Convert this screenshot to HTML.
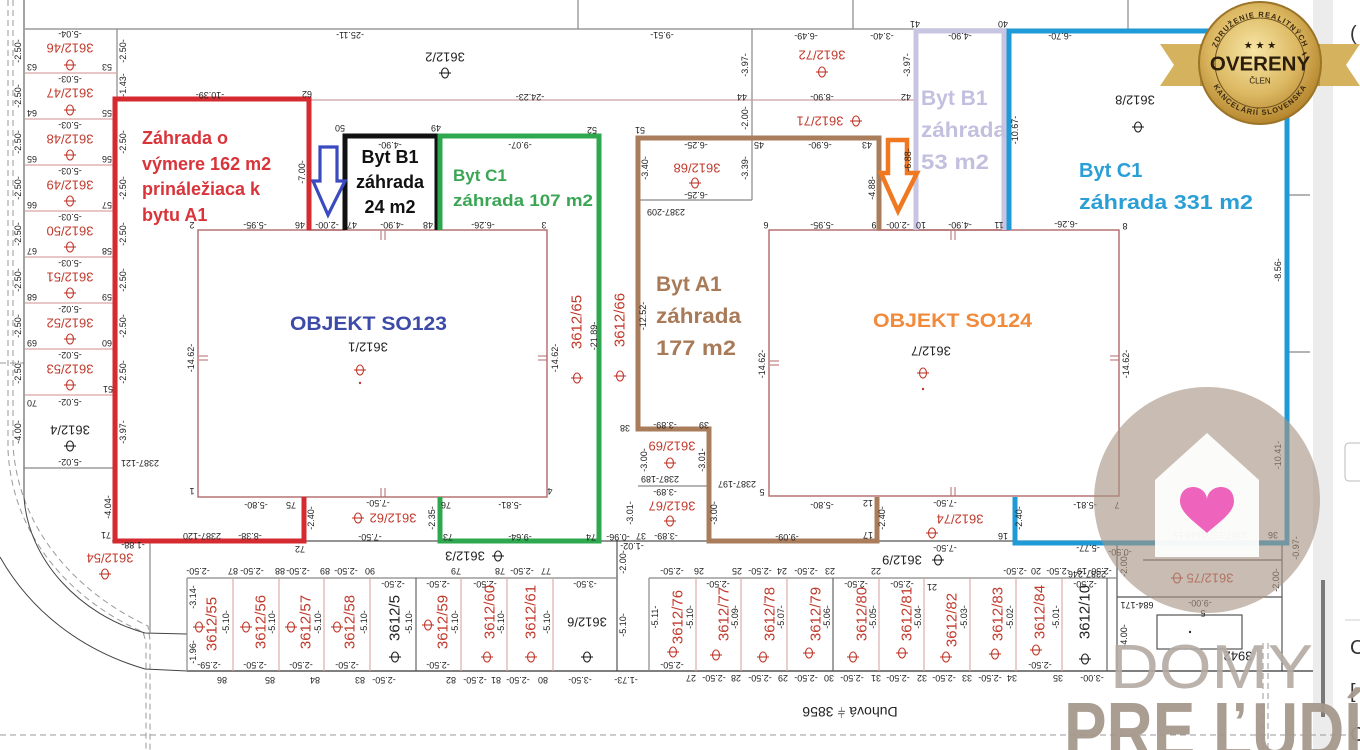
<!DOCTYPE html>
<html><head><meta charset="utf-8">
<style>
html,body{margin:0;padding:0;background:#fff;}
svg{display:block;}
text{font-family:"Liberation Sans",sans-serif;}
.c{text-anchor:middle;dominant-baseline:central;}
.d{font-size:9px;fill:#222;text-anchor:middle;dominant-baseline:central;}
.r{font-size:13px;fill:#c0392b;text-anchor:middle;dominant-baseline:central;}
.k{font-size:13px;fill:#222;text-anchor:middle;dominant-baseline:central;}
.v{font-size:15px;fill:#c0392b;text-anchor:middle;dominant-baseline:central;}
.vk{font-size:15px;fill:#222;text-anchor:middle;dominant-baseline:central;}
.lab{font-weight:bold;}
</style></head><body>
<svg width="1360" height="750" viewBox="0 0 1360 750" xmlns="http://www.w3.org/2000/svg">
<defs>
<g id="t" fill="none" stroke="currentColor" stroke-width="1.1"><ellipse cx="0" cy="0" rx="3.5" ry="5"/><line x1="-6" y1="0" x2="6" y2="0"/></g>
<radialGradient id="gold" cx="45%" cy="40%" r="60%">
<stop offset="0" stop-color="#f7e6a6"/><stop offset="0.6" stop-color="#dcb862"/><stop offset="1" stop-color="#b5862e"/>
</radialGradient>
<path id="arcTop" d="M1214,63 A46,46 0 0,1 1306,63"/>
<path id="arcBot" d="M1208,63 A52,52 0 0,0 1312,63"/>
</defs>

<!-- right panel band -->
<rect x="1313" y="0" width="20" height="750" fill="#ececec"/>
<rect x="1321" y="580" width="4" height="137" fill="#7a7a7a"/>
<rect x="1345" y="443" width="30" height="38" rx="4" fill="#fff" stroke="#bbb"/>
<line x1="1345" y1="620" x2="1360" y2="620" stroke="#ccc"/>
<text x="1350" y="40" font-size="20" fill="#333">(</text>
<text x="1350" y="654" font-size="20" fill="#333">C</text>
<text x="1350" y="698" font-size="20" fill="#333">[</text>
<text x="1350" y="741" font-size="20" fill="#333">C</text>

<!-- left dashed / curves -->
<g fill="none" stroke="#999" stroke-width="1" stroke-dasharray="6,4">
<path d="M8,0 L8,450 C12,535 70,600 143,632 L146,642 L146,750"/>
<path d="M13,0 L13,445 C18,528 75,592 148,626 L150,640 L150,750"/>
<line x1="0" y1="735" x2="1360" y2="735"/>
<line x1="0" y1="363" x2="24" y2="363"/>
<line x1="1263" y1="643" x2="1263" y2="750"/>
<line x1="1268" y1="643" x2="1268" y2="750"/>
</g>
<g fill="none" stroke="#444" stroke-width="1">
<path d="M24,0 L24,497 C28,560 80,615 145,633 L187,634"/>
<path d="M0,557 C30,610 80,650 145,669 L187,671"/>
</g>

<!-- base thin lines -->
<g stroke="#888" stroke-width="1.2" fill="none">
<line x1="25" y1="29" x2="1008" y2="29"/>
<line x1="578" y1="0" x2="578" y2="29"/>
<line x1="853" y1="0" x2="853" y2="29"/>
<line x1="1128" y1="0" x2="1128" y2="29"/>
<line x1="117" y1="29" x2="117" y2="540"/>
<line x1="752" y1="29" x2="752" y2="200"/>
<line x1="638" y1="200" x2="752" y2="200"/>
<line x1="24" y1="468" x2="114" y2="468"/>
<line x1="150" y1="541" x2="150" y2="633"/>
<line x1="112" y1="541" x2="150" y2="541"/>
<line x1="304" y1="541" x2="1287" y2="541" stroke="#555"/>
<line x1="617" y1="541" x2="617" y2="671" stroke="#555"/>
<line x1="1117" y1="541" x2="1117" y2="671" stroke="#555"/>
<line x1="1282" y1="543" x2="1282" y2="671" stroke="#555"/>
<line x1="1143" y1="560" x2="1282" y2="560" stroke="#555"/>
<line x1="1117" y1="597" x2="1282" y2="597" stroke="#555"/>
<rect x="1157" y="615" width="85" height="34" stroke="#555"/>
<line x1="617" y1="671" x2="1313" y2="671" stroke="#333"/>
<line x1="187" y1="671" x2="617" y2="671" stroke="#333"/>
<line x1="187" y1="578" x2="617" y2="578"/>
<line x1="649" y1="578" x2="1117" y2="578"/>
<line x1="187" y1="578" x2="187" y2="671"/>
<line x1="649" y1="578" x2="649" y2="671"/>
<line x1="1287" y1="195" x2="1310" y2="195"/>
<line x1="1287" y1="352" x2="1310" y2="352"/>
<line x1="638" y1="486" x2="709" y2="486"/>
</g>
<line x1="117" y1="100" x2="915" y2="100" stroke="#c9a0a0" stroke-width="1.2"/>

<!-- left column row separators -->
<g stroke="#d9a5a5" stroke-width="1.2">
<line x1="25" y1="73" x2="117" y2="73"/><line x1="25" y1="119" x2="117" y2="119"/>
<line x1="25" y1="165" x2="117" y2="165"/><line x1="25" y1="211" x2="117" y2="211"/>
<line x1="25" y1="257" x2="117" y2="257"/><line x1="25" y1="303" x2="117" y2="303"/>
<line x1="25" y1="349" x2="117" y2="349"/><line x1="25" y1="395" x2="117" y2="395"/>
</g>

<!-- bottom row columns -->
<g stroke="#d9a5a5" stroke-width="1.1">
<line x1="233" y1="578" x2="233" y2="671"/><line x1="279" y1="578" x2="279" y2="671"/>
<line x1="324" y1="578" x2="324" y2="671"/><line x1="370" y1="578" x2="370" y2="671"/>
<line x1="461" y1="578" x2="461" y2="671"/><line x1="507" y1="578" x2="507" y2="671"/>
<line x1="553" y1="578" x2="553" y2="671"/>
<line x1="696" y1="578" x2="696" y2="671"/><line x1="741" y1="578" x2="741" y2="671"/>
<line x1="787" y1="578" x2="787" y2="671"/><line x1="879" y1="578" x2="879" y2="671"/>
<line x1="924" y1="578" x2="924" y2="671"/><line x1="970" y1="578" x2="970" y2="671"/>
<line x1="1016" y1="578" x2="1016" y2="671"/><line x1="1062" y1="578" x2="1062" y2="671"/>
</g>
<g stroke="#555" stroke-width="1.1">
<line x1="416" y1="578" x2="416" y2="671"/><line x1="833" y1="578" x2="833" y2="671"/>
<line x1="1107" y1="578" x2="1107" y2="671"/>
</g>

<!-- buildings -->
<g fill="none" stroke="#b06a6a" stroke-width="1.4">
<rect x="198" y="230" width="349" height="267"/>
<rect x="769" y="230" width="350" height="266"/>
<line x1="307" y1="230" x2="345" y2="230"/>
<line x1="878" y1="230" x2="1009" y2="230"/>
</g>
<g stroke="#b06a6a" stroke-width="1">
<line x1="381" y1="231" x2="381" y2="240"/><line x1="385" y1="231" x2="385" y2="240"/>
<line x1="381" y1="488" x2="381" y2="497"/><line x1="385" y1="488" x2="385" y2="497"/>
<line x1="199" y1="356" x2="208" y2="356"/><line x1="199" y1="360" x2="208" y2="360"/>
<line x1="538" y1="356" x2="547" y2="356"/><line x1="538" y1="360" x2="547" y2="360"/>
<line x1="951" y1="231" x2="951" y2="240"/><line x1="955" y1="231" x2="955" y2="240"/>
<line x1="951" y1="487" x2="951" y2="496"/><line x1="955" y1="487" x2="955" y2="496"/>
<line x1="770" y1="361" x2="779" y2="361"/><line x1="770" y1="365" x2="779" y2="365"/>
<line x1="1110" y1="356" x2="1119" y2="356"/><line x1="1110" y1="360" x2="1119" y2="360"/>
</g>

<!-- coloured garden outlines -->
<g fill="none" stroke-width="5" stroke-linejoin="miter">
<path d="M309,230 L309,99 L115,99 L115,541 L304,541 L304,497" stroke="#d42a30"/>
<path d="M345,230 L345,136 L437,136 L437,230" stroke="#111"/>
<path d="M440,230 L440,136 L599,136 L599,541 L440,541 L440,497" stroke="#2ea84e"/>
<path d="M879,230 L879,138 L638,138 L638,429 L709,429 L709,541 L877,541 L877,497" stroke="#a97c5c"/>
<path d="M916,230 L916,31 L1004,31 L1004,230" stroke="#c8c5e3"/>
<path d="M1009,230 L1009,31 L1287,31 L1287,543 L1015,543 L1015,497" stroke="#1e9ad6"/>
</g>

<!-- arrows -->
<polygon points="320,147 337,147 337,181 345,181 328,215 313,181 320,181" fill="none" stroke="#3a4bc0" stroke-width="3.2" stroke-linejoin="miter"/>
<polygon points="888,140 907,140 907,173 917,173 898,211 881,173 888,173" fill="none" stroke="#f07820" stroke-width="4.5" stroke-linejoin="miter"/>

<!-- left column labels -->
<g>
<text class="d" transform="rotate(180 70 34)" x="70" y="34">-5.04-</text>
<text class="r" transform="rotate(180 70 48)" x="70" y="48">3612/46</text>
<use href="#t" x="70" y="65" color="#c0392b"/>
<text class="d" transform="rotate(180 32 67)" x="32" y="67">63</text>
<text class="d" transform="rotate(180 107 67)" x="107" y="67">53</text>
<text class="d" transform="rotate(-90 18 51)" x="18" y="51">-2.50-</text>
<text class="d" transform="rotate(-90 123 51)" x="123" y="51">-2.50-</text>

<text class="d" transform="rotate(180 70 79)" x="70" y="79">-5.03-</text>
<text class="r" transform="rotate(180 70 93)" x="70" y="93">3612/47</text>
<use href="#t" x="70" y="110" color="#c0392b"/>
<text class="d" transform="rotate(180 32 113)" x="32" y="113">64</text>
<text class="d" transform="rotate(180 107 113)" x="107" y="113">55</text>
<text class="d" transform="rotate(-90 18 96)" x="18" y="96">-2.50-</text>
<text class="d" transform="rotate(-90 123 85)" x="123" y="85">-1.43-</text>

<text class="d" transform="rotate(180 70 125)" x="70" y="125">-5.03-</text>
<text class="r" transform="rotate(180 70 139)" x="70" y="139">3612/48</text>
<use href="#t" x="70" y="155" color="#c0392b"/>
<text class="d" transform="rotate(180 32 159)" x="32" y="159">65</text>
<text class="d" transform="rotate(180 107 159)" x="107" y="159">56</text>
<text class="d" transform="rotate(-90 18 142)" x="18" y="142">-2.50-</text>
<text class="d" transform="rotate(-90 123 142)" x="123" y="142">-2.50-</text>

<text class="d" transform="rotate(180 70 171)" x="70" y="171">-5.03-</text>
<text class="r" transform="rotate(180 70 185)" x="70" y="185">3612/49</text>
<use href="#t" x="70" y="201" color="#c0392b"/>
<text class="d" transform="rotate(180 32 205)" x="32" y="205">66</text>
<text class="d" transform="rotate(180 107 205)" x="107" y="205">57</text>
<text class="d" transform="rotate(-90 18 188)" x="18" y="188">-2.50-</text>
<text class="d" transform="rotate(-90 123 188)" x="123" y="188">-2.50-</text>

<text class="d" transform="rotate(180 70 217)" x="70" y="217">-5.03-</text>
<text class="r" transform="rotate(180 70 231)" x="70" y="231">3612/50</text>
<use href="#t" x="70" y="247" color="#c0392b"/>
<text class="d" transform="rotate(180 32 251)" x="32" y="251">67</text>
<text class="d" transform="rotate(180 107 251)" x="107" y="251">58</text>
<text class="d" transform="rotate(-90 18 234)" x="18" y="234">-2.50-</text>
<text class="d" transform="rotate(-90 123 234)" x="123" y="234">-2.50-</text>

<text class="d" transform="rotate(180 70 263)" x="70" y="263">-5.03-</text>
<text class="r" transform="rotate(180 70 277)" x="70" y="277">3612/51</text>
<use href="#t" x="70" y="293" color="#c0392b"/>
<text class="d" transform="rotate(180 32 297)" x="32" y="297">68</text>
<text class="d" transform="rotate(180 107 297)" x="107" y="297">59</text>
<text class="d" transform="rotate(-90 18 280)" x="18" y="280">-2.50-</text>
<text class="d" transform="rotate(-90 123 280)" x="123" y="280">-2.50-</text>

<text class="d" transform="rotate(180 70 309)" x="70" y="309">-5.02-</text>
<text class="r" transform="rotate(180 70 323)" x="70" y="323">3612/52</text>
<use href="#t" x="70" y="339" color="#c0392b"/>
<text class="d" transform="rotate(180 32 343)" x="32" y="343">69</text>
<text class="d" transform="rotate(180 107 343)" x="107" y="343">60</text>
<text class="d" transform="rotate(-90 18 326)" x="18" y="326">-2.50-</text>
<text class="d" transform="rotate(-90 123 326)" x="123" y="326">-2.50-</text>

<text class="d" transform="rotate(180 70 355)" x="70" y="355">-5.02-</text>
<text class="r" transform="rotate(180 70 369)" x="70" y="369">3612/53</text>
<use href="#t" x="70" y="385" color="#c0392b"/>
<text class="d" transform="rotate(-90 18 372)" x="18" y="372">-2.50-</text>
<text class="d" transform="rotate(-90 123 372)" x="123" y="372">-2.50-</text>
<text class="d" transform="rotate(180 108 389)" x="108" y="389">51</text>

<text class="d" transform="rotate(180 32 403)" x="32" y="403">70</text>
<text class="d" transform="rotate(180 70 402)" x="70" y="402">-5.02-</text>
<text class="k" transform="rotate(180 70 430)" x="70" y="430">3612/4</text>
<use href="#t" x="70" y="446" color="#222"/>
<text class="d" transform="rotate(180 70 462)" x="70" y="462">-5.02-</text>
<text class="d" transform="rotate(-90 18 432)" x="18" y="432">-4.00-</text>
<text class="d" transform="rotate(-90 123 432)" x="123" y="432">-3.97-</text>
<text class="d" transform="rotate(180 140 463)" x="140" y="463">2387-121</text>
<text class="d" transform="rotate(-90 108 507)" x="108" y="507">-4.04-</text>
<text class="d" transform="rotate(180 106 535)" x="106" y="535">71</text>
<text class="d" transform="rotate(180 133 545)" x="133" y="545">-1.88-</text>
<text class="r" transform="rotate(180 110 558)" x="110" y="558">3612/54</text>
<use href="#t" x="105" y="574" color="#c0392b"/>
</g>

<!-- top region labels -->
<g>
<text class="d" transform="rotate(180 350 35)" x="350" y="35">-25.11-</text>
<text class="k" transform="rotate(180 445 57)" x="445" y="57">3612/2</text>
<use href="#t" x="445" y="73" color="#222"/>
<text class="d" transform="rotate(180 210 95)" x="210" y="95">-10.39-</text>
<text class="d" transform="rotate(180 307 94)" x="307" y="94">62</text>
<text class="d" transform="rotate(180 530 97)" x="530" y="97">-24.23-</text>
<text class="d" transform="rotate(180 662 35)" x="662" y="35">-9.51-</text>
<text class="d" transform="rotate(180 742 97)" x="742" y="97">44</text>
<text class="d" transform="rotate(-90 745 65)" x="745" y="65">-3.97-</text>
<text class="d" transform="rotate(180 806 36)" x="806" y="36">-6.49-</text>
<text class="d" transform="rotate(180 882 36)" x="882" y="36">-3.40-</text>
<text class="r" transform="rotate(180 822 55)" x="822" y="55">3612/72</text>
<use href="#t" x="822" y="72" color="#c0392b"/>
<text class="d" transform="rotate(180 822 97)" x="822" y="97">-8.90-</text>
<text class="d" transform="rotate(-90 907 65)" x="907" y="65">-3.97-</text>
<text class="d" transform="rotate(180 915 24)" x="915" y="24">41</text>
<text class="d" transform="rotate(180 1003 24)" x="1003" y="24">40</text>
<text class="d" transform="rotate(180 906 97)" x="906" y="97">42</text>
<text class="d" transform="rotate(180 960 36)" x="960" y="36">-4.90-</text>
<text class="d" transform="rotate(180 1060 36)" x="1060" y="36">-6.70-</text>
<text class="r" transform="rotate(180 820 121)" x="820" y="121">3612/71</text>
<use href="#t" x="856" y="121" color="#c0392b"/>
<text class="d" transform="rotate(-90 745 118)" x="745" y="118">-2.00-</text>
<text class="d" transform="rotate(180 640 130)" x="640" y="130">51</text>
<text class="d" transform="rotate(180 696 145)" x="696" y="145">-6.25-</text>
<text class="r" transform="rotate(180 697 168)" x="697" y="168">3612/68</text>
<use href="#t" x="695" y="183" color="#c0392b"/>
<text class="d" transform="rotate(180 696 195)" x="696" y="195">-6.25-</text>
<text class="d" transform="rotate(-90 645 168)" x="645" y="168">-3.40-</text>
<text class="d" transform="rotate(-90 745 168)" x="745" y="168">-3.39-</text>
<text class="d" transform="rotate(180 666 212)" x="666" y="212">2387-209</text>
<text class="d" transform="rotate(180 759 145)" x="759" y="145">45</text>
<text class="d" transform="rotate(180 820 145)" x="820" y="145">-6.90-</text>
<text class="d" transform="rotate(180 867 145)" x="867" y="145">43</text>
<text class="d" transform="rotate(-90 872 188)" x="872" y="188">-4.88-</text>
<text class="d" transform="rotate(-90 908 160)" x="908" y="160">-6.88-</text>
<text class="d" transform="rotate(180 766 225)" x="766" y="225">6</text>
<text class="d" transform="rotate(180 822 225)" x="822" y="225">-5.95-</text>
<text class="d" transform="rotate(180 874 225)" x="874" y="225">9</text>
<text class="d" transform="rotate(180 898 225)" x="898" y="225">-2.00-</text>
<text class="d" transform="rotate(180 921 225)" x="921" y="225">10</text>
<text class="d" transform="rotate(180 960 225)" x="960" y="225">-4.90-</text>
<text class="d" transform="rotate(180 999 225)" x="999" y="225">11</text>
<text class="d" transform="rotate(180 1066 224)" x="1066" y="224">-6.26-</text>
<text class="d" transform="rotate(180 1125 226)" x="1125" y="226">8</text>
<text class="d" transform="rotate(-90 1278 270)" x="1278" y="270">-8.56-</text>
<text class="d" transform="rotate(-90 1278 455)" x="1278" y="455">-10.41-</text>
<text class="d" transform="rotate(-90 1015 130)" x="1015" y="130">-10.67-</text>
<text class="k" transform="rotate(180 1135 100)" x="1135" y="100">3612/8</text>
<use href="#t" x="1138" y="127" color="#222"/>

<text class="d" transform="rotate(180 340 128)" x="340" y="128">50</text>
<text class="d" transform="rotate(180 390 145)" x="390" y="145">-4.90-</text>
<text class="d" transform="rotate(180 436 128)" x="436" y="128">49</text>
<text class="d" transform="rotate(180 592 130)" x="592" y="130">52</text>
<text class="d" transform="rotate(180 520 145)" x="520" y="145">-9.07-</text>
<text class="d" transform="rotate(-90 302 172)" x="302" y="172">-7.00-</text>
<text class="d" transform="rotate(180 192 225)" x="192" y="225">2</text>
<text class="d" transform="rotate(180 255 225)" x="255" y="225">-5.95-</text>
<text class="d" transform="rotate(180 300 225)" x="300" y="225">46</text>
<text class="d" transform="rotate(180 327 225)" x="327" y="225">-2.00-</text>
<text class="d" transform="rotate(180 352 225)" x="352" y="225">47</text>
<text class="d" transform="rotate(180 392 225)" x="392" y="225">-4.90-</text>
<text class="d" transform="rotate(180 428 225)" x="428" y="225">48</text>
<text class="d" transform="rotate(180 483 225)" x="483" y="225">-6.26-</text>
<text class="d" transform="rotate(180 544 225)" x="544" y="225">3</text>
</g>

<!-- building SO123 labels -->
<g>
<text class="d" transform="rotate(-90 191 358)" x="191" y="358">-14.62-</text>
<text class="d" transform="rotate(-90 555 358)" x="555" y="358">-14.62-</text>
<text class="k" transform="rotate(180 368 347)" x="368" y="347">3612/1</text>
<use href="#t" x="360" y="370" color="#c0392b"/>
<circle cx="360" cy="383" r="1.2" fill="#c0392b"/>
<text class="d" transform="rotate(180 192 491)" x="192" y="491">1</text>
<text class="d" transform="rotate(180 550 491)" x="550" y="491">4</text>
<text class="d" transform="rotate(180 256 505)" x="256" y="505">-5.80-</text>
<text class="d" transform="rotate(180 291 505)" x="291" y="505">75</text>
<text class="d" transform="rotate(180 378 503)" x="378" y="503">-7.50-</text>
<text class="d" transform="rotate(180 446 505)" x="446" y="505">76</text>
<text class="d" transform="rotate(180 510 505)" x="510" y="505">-5.81-</text>
<text class="r" transform="rotate(180 393 518)" x="393" y="518">3612/62</text>
<use href="#t" x="358" y="518" color="#c0392b"/>
<text class="d" transform="rotate(-90 311 518)" x="311" y="518">-2.40-</text>
<text class="d" transform="rotate(-90 432 518)" x="432" y="518">-2.35-</text>
<text class="d" transform="rotate(180 202 536)" x="202" y="536">2387-120</text>
<text class="d" transform="rotate(180 250 536)" x="250" y="536">-8.38-</text>
<text class="d" transform="rotate(180 370 537)" x="370" y="537">-7.50-</text>
<text class="d" transform="rotate(180 448 537)" x="448" y="537">73</text>
<text class="d" transform="rotate(180 520 537)" x="520" y="537">-9.64-</text>
<text class="d" transform="rotate(180 591 537)" x="591" y="537">74</text>
<text class="d" transform="rotate(180 618 537)" x="618" y="537">-0.96-</text>
<text class="d" transform="rotate(180 300 549)" x="300" y="549">72</text>
<text class="v" transform="rotate(-90 577 322)" x="577" y="322">3612/65</text>
<use href="#t" x="577" y="378" color="#c0392b"/>
<text class="d" transform="rotate(-90 594 336)" x="594" y="336">-21.89-</text>
<text class="v" transform="rotate(-90 620 320)" x="620" y="320">3612/66</text>
<use href="#t" x="620" y="376" color="#c0392b"/>
<text class="d" transform="rotate(-90 643 316)" x="643" y="316">-12.52-</text>
</g>

<!-- A1 small parcels -->
<g>
<text class="d" transform="rotate(180 625 428)" x="625" y="428">38</text>
<text class="d" transform="rotate(180 665 425)" x="665" y="425">-3.89-</text>
<text class="d" transform="rotate(180 704 425)" x="704" y="425">39</text>
<text class="r" transform="rotate(180 672 446)" x="672" y="446">3612/69</text>
<use href="#t" x="670" y="463" color="#c0392b"/>
<text class="d" transform="rotate(-90 644 460)" x="644" y="460">-3.00-</text>
<text class="d" transform="rotate(-90 702 460)" x="702" y="460">-3.01-</text>
<text class="d" transform="rotate(180 660 479)" x="660" y="479">2387-189</text>
<text class="d" transform="rotate(180 665 492)" x="665" y="492">-3.89-</text>
<text class="r" transform="rotate(180 672 506)" x="672" y="506">3612/67</text>
<use href="#t" x="670" y="521" color="#c0392b"/>
<text class="d" transform="rotate(180 641 536)" x="641" y="536">37</text>
<text class="d" transform="rotate(180 666 536)" x="666" y="536">-3.89-</text>
<text class="d" transform="rotate(-90 630 513)" x="630" y="513">-3.01-</text>
<text class="d" transform="rotate(-90 714 513)" x="714" y="513">-3.00-</text>
<text class="d" transform="rotate(180 737 484)" x="737" y="484">2387-197</text>
<text class="d" transform="rotate(180 762 492)" x="762" y="492">5</text>
<text class="d" transform="rotate(180 787 537)" x="787" y="537">-9.09-</text>
</g>

<!-- building SO124 labels -->
<g>
<text class="d" transform="rotate(-90 762 364)" x="762" y="364">-14.62-</text>
<text class="d" transform="rotate(-90 1126 364)" x="1126" y="364">-14.62-</text>
<text class="k" transform="rotate(180 931 351)" x="931" y="351">3612/7</text>
<use href="#t" x="923" y="373" color="#c0392b"/>
<circle cx="923" cy="389" r="1.2" fill="#c0392b"/>
<text class="d" transform="rotate(180 822 505)" x="822" y="505">-5.80-</text>
<text class="d" transform="rotate(180 868 503)" x="868" y="503">12</text>
<text class="d" transform="rotate(180 945 503)" x="945" y="503">-7.50-</text>
<text class="d" transform="rotate(180 1085 505)" x="1085" y="505">-5.81-</text>
<text class="d" transform="rotate(180 1117 505)" x="1117" y="505">7</text>
<text class="r" transform="rotate(180 960 519)" x="960" y="519">3612/74</text>
<use href="#t" x="932" y="533" color="#c0392b"/>
<text class="d" transform="rotate(-90 882 518)" x="882" y="518">-2.40-</text>
<text class="d" transform="rotate(-90 1019 518)" x="1019" y="518">-2.40-</text>
<text class="d" transform="rotate(180 868 535)" x="868" y="535">17</text>
<text class="d" transform="rotate(180 1003 536)" x="1003" y="536">16</text>
<text class="d" transform="rotate(180 945 548)" x="945" y="548">-7.50-</text>
<text class="d" transform="rotate(180 1088 548)" x="1088" y="548">-5.77-</text>
<text class="d" transform="rotate(180 1210 535)" x="1210" y="535">2387-257-1149-15</text>
<text class="d" transform="rotate(180 1273 535)" x="1273" y="535">36</text>
<text class="d" transform="rotate(-90 1296 548)" x="1296" y="548">-0.97-</text>
</g>

<!-- 3612/3, 3612/9 -->
<text class="k" transform="rotate(180 465 556)" x="465" y="556">3612/3</text>
<use href="#t" x="498" y="556" color="#222"/>
<text class="k" transform="rotate(180 902 560)" x="902" y="560">3612/9</text>
<use href="#t" x="938" y="560" color="#222"/>
<text class="d" transform="rotate(-90 623 562)" x="623" y="562">-2.00-</text>
<text class="d" transform="rotate(180 632 546)" x="632" y="546">-1.02-</text>
<text class="d" transform="rotate(-90 623 625)" x="623" y="625">-5.10-</text>
<text class="d" transform="rotate(180 626 680)" x="626" y="680">-1.73-</text>

<!-- bottom row 1 -->
<g>
<text class="d" transform="rotate(180 198 571)" x="198" y="571">-2.50-</text>
<text class="d" transform="rotate(180 233 571)" x="233" y="571">87</text>
<text class="d" transform="rotate(180 252 571)" x="252" y="571">-2.50-</text>
<text class="d" transform="rotate(180 280 571)" x="280" y="571">88</text>
<text class="d" transform="rotate(180 298 571)" x="298" y="571">-2.50-</text>
<text class="d" transform="rotate(180 325 571)" x="325" y="571">89</text>
<text class="d" transform="rotate(180 346 571)" x="346" y="571">-2.50-</text>
<text class="d" transform="rotate(180 370 571)" x="370" y="571">90</text>
<text class="d" transform="rotate(180 456 571)" x="456" y="571">79</text>
<text class="d" transform="rotate(180 500 571)" x="500" y="571">78</text>
<text class="d" transform="rotate(180 522 571)" x="522" y="571">-2.50-</text>
<text class="d" transform="rotate(180 546 571)" x="546" y="571">77</text>
<text class="d" transform="rotate(180 393 584)" x="393" y="584">-2.50-</text>
<text class="d" transform="rotate(180 438 584)" x="438" y="584">-2.50-</text>
<text class="d" transform="rotate(180 485 584)" x="485" y="584">-2.50-</text>
<text class="d" transform="rotate(180 585 584)" x="585" y="584">-3.50-</text>

<text class="d" transform="rotate(-90 193 597)" x="193" y="597">-3.14-</text>
<text class="d" transform="rotate(-90 193 652)" x="193" y="652">-1.96-</text>
<text class="v" transform="rotate(-90 212 624)" x="212" y="624">3612/55</text>
<use href="#t" x="199" y="627" color="#c0392b"/>
<text class="d" transform="rotate(-90 226 622)" x="226" y="622">-5.10-</text>
<text class="v" transform="rotate(-90 261 622)" x="261" y="622">3612/56</text>
<use href="#t" x="246" y="627" color="#c0392b"/>
<text class="d" transform="rotate(-90 272 622)" x="272" y="622">-5.10-</text>
<text class="v" transform="rotate(-90 306 622)" x="306" y="622">3612/57</text>
<use href="#t" x="291" y="627" color="#c0392b"/>
<text class="d" transform="rotate(-90 318 622)" x="318" y="622">-5.10-</text>
<text class="v" transform="rotate(-90 350 622)" x="350" y="622">3612/58</text>
<use href="#t" x="337" y="627" color="#c0392b"/>
<text class="d" transform="rotate(-90 364 622)" x="364" y="622">-5.10-</text>
<text class="vk" transform="rotate(-90 395 618)" x="395" y="618">3612/5</text>
<use href="#t" x="395" y="657" color="#222"/>
<text class="d" transform="rotate(-90 409 622)" x="409" y="622">-5.10-</text>
<text class="v" transform="rotate(-90 443 622)" x="443" y="622">3612/59</text>
<use href="#t" x="428" y="625" color="#c0392b"/>
<text class="d" transform="rotate(-90 455 622)" x="455" y="622">-5.10-</text>
<text class="v" transform="rotate(-90 490 612)" x="490" y="612">3612/60</text>
<use href="#t" x="487" y="657" color="#c0392b"/>
<text class="d" transform="rotate(-90 501 622)" x="501" y="622">-5.10-</text>
<text class="v" transform="rotate(-90 531 612)" x="531" y="612">3612/61</text>
<use href="#t" x="531" y="657" color="#c0392b"/>
<text class="d" transform="rotate(-90 547 622)" x="547" y="622">-5.10-</text>
<text class="k" transform="rotate(180 587 622)" x="587" y="622">3612/6</text>
<use href="#t" x="587" y="657" color="#222"/>

<text class="d" transform="rotate(180 209 665)" x="209" y="665">-2.59-</text>
<text class="d" transform="rotate(180 255 665)" x="255" y="665">-2.50-</text>
<text class="d" transform="rotate(180 301 665)" x="301" y="665">-2.50-</text>
<text class="d" transform="rotate(180 347 665)" x="347" y="665">-2.50-</text>
<text class="d" transform="rotate(180 438 665)" x="438" y="665">-2.50-</text>
<text class="d" transform="rotate(180 222 680)" x="222" y="680">86</text>
<text class="d" transform="rotate(180 270 680)" x="270" y="680">85</text>
<text class="d" transform="rotate(180 315 680)" x="315" y="680">84</text>
<text class="d" transform="rotate(180 360 680)" x="360" y="680">83</text>
<text class="d" transform="rotate(180 384 680)" x="384" y="680">-2.50-</text>
<text class="d" transform="rotate(180 451 680)" x="451" y="680">82</text>
<text class="d" transform="rotate(180 475 680)" x="475" y="680">-2.50-</text>
<text class="d" transform="rotate(180 496 680)" x="496" y="680">81</text>
<text class="d" transform="rotate(180 518 680)" x="518" y="680">-2.50-</text>
<text class="d" transform="rotate(180 543 680)" x="543" y="680">80</text>
<text class="d" transform="rotate(180 580 680)" x="580" y="680">-3.50-</text>
</g>

<!-- bottom row 2 -->
<g>
<text class="d" transform="rotate(180 672 571)" x="672" y="571">-2.50-</text>
<text class="d" transform="rotate(180 699 571)" x="699" y="571">26</text>
<text class="d" transform="rotate(180 737 571)" x="737" y="571">25</text>
<text class="d" transform="rotate(180 760 571)" x="760" y="571">-2.50-</text>
<text class="d" transform="rotate(180 782 571)" x="782" y="571">24</text>
<text class="d" transform="rotate(180 806 571)" x="806" y="571">-2.50-</text>
<text class="d" transform="rotate(180 830 571)" x="830" y="571">23</text>
<text class="d" transform="rotate(180 876 571)" x="876" y="571">22</text>
<text class="d" transform="rotate(180 1015 571)" x="1015" y="571">-2.50-</text>
<text class="d" transform="rotate(180 1036 571)" x="1036" y="571">20</text>
<text class="d" transform="rotate(180 1058 571)" x="1058" y="571">-2.50-</text>
<text class="d" transform="rotate(180 1082 571)" x="1082" y="571">19</text>
<text class="d" transform="rotate(180 1100 571)" x="1100" y="571">-2.50-</text>
<text class="d" transform="rotate(180 718 584)" x="718" y="584">-2.50-</text>
<text class="d" transform="rotate(180 856 584)" x="856" y="584">-2.50-</text>
<text class="d" transform="rotate(180 902 584)" x="902" y="584">-2.50-</text>
<text class="d" transform="rotate(180 932 587)" x="932" y="587">21</text>
<text class="d" transform="rotate(180 1085 584)" x="1085" y="584">-2.50-</text>

<text class="d" transform="rotate(-90 655 617)" x="655" y="617">-5.11-</text>
<text class="v" transform="rotate(-90 678 617)" x="678" y="617">3612/76</text>
<use href="#t" x="673" y="652" color="#c0392b"/>
<text class="d" transform="rotate(-90 690 617)" x="690" y="617">-5.10-</text>
<text class="v" transform="rotate(-90 724 614)" x="724" y="614">3612/77</text>
<use href="#t" x="716" y="655" color="#c0392b"/>
<text class="d" transform="rotate(-90 735 617)" x="735" y="617">-5.09-</text>
<text class="v" transform="rotate(-90 770 614)" x="770" y="614">3612/78</text>
<use href="#t" x="763" y="657" color="#c0392b"/>
<text class="d" transform="rotate(-90 781 617)" x="781" y="617">-5.07-</text>
<text class="v" transform="rotate(-90 816 614)" x="816" y="614">3612/79</text>
<use href="#t" x="809" y="653" color="#c0392b"/>
<text class="d" transform="rotate(-90 827 617)" x="827" y="617">-5.06-</text>
<text class="v" transform="rotate(-90 862 614)" x="862" y="614">3612/80</text>
<use href="#t" x="853" y="657" color="#c0392b"/>
<text class="d" transform="rotate(-90 873 617)" x="873" y="617">-5.05-</text>
<text class="v" transform="rotate(-90 907 614)" x="907" y="614">3612/81</text>
<use href="#t" x="902" y="653" color="#c0392b"/>
<text class="d" transform="rotate(-90 918 617)" x="918" y="617">-5.04-</text>
<text class="v" transform="rotate(-90 952 620)" x="952" y="620">3612/82</text>
<use href="#t" x="946" y="657" color="#c0392b"/>
<text class="d" transform="rotate(-90 964 617)" x="964" y="617">-5.03-</text>
<text class="v" transform="rotate(-90 998 614)" x="998" y="614">3612/83</text>
<use href="#t" x="995" y="654" color="#c0392b"/>
<text class="d" transform="rotate(-90 1010 617)" x="1010" y="617">-5.02-</text>
<text class="v" transform="rotate(-90 1040 612)" x="1040" y="612">3612/84</text>
<use href="#t" x="1036" y="650" color="#c0392b"/>
<text class="d" transform="rotate(-90 1056 617)" x="1056" y="617">-5.01-</text>
<text class="vk" transform="rotate(-90 1085 612)" x="1085" y="612">3612/10</text>
<use href="#t" x="1085" y="659" color="#222"/>

<text class="d" transform="rotate(180 672 665)" x="672" y="665">-2.50-</text>
<text class="d" transform="rotate(180 1040 665)" x="1040" y="665">-2.50-</text>
<text class="d" transform="rotate(180 691 678)" x="691" y="678">27</text>
<text class="d" transform="rotate(180 714 678)" x="714" y="678">-2.50-</text>
<text class="d" transform="rotate(180 736 678)" x="736" y="678">28</text>
<text class="d" transform="rotate(180 760 678)" x="760" y="678">-2.50-</text>
<text class="d" transform="rotate(180 783 678)" x="783" y="678">29</text>
<text class="d" transform="rotate(180 806 678)" x="806" y="678">-2.50-</text>
<text class="d" transform="rotate(180 829 678)" x="829" y="678">30</text>
<text class="d" transform="rotate(180 852 678)" x="852" y="678">-2.50-</text>
<text class="d" transform="rotate(180 876 678)" x="876" y="678">31</text>
<text class="d" transform="rotate(180 898 678)" x="898" y="678">-2.50-</text>
<text class="d" transform="rotate(180 922 678)" x="922" y="678">32</text>
<text class="d" transform="rotate(180 944 678)" x="944" y="678">-2.50-</text>
<text class="d" transform="rotate(180 967 678)" x="967" y="678">33</text>
<text class="d" transform="rotate(180 990 678)" x="990" y="678">-2.50-</text>
<text class="d" transform="rotate(180 1012 678)" x="1012" y="678">34</text>
<text class="d" transform="rotate(180 1058 678)" x="1058" y="678">35</text>
<text class="d" transform="rotate(180 1092 678)" x="1092" y="678">-3.00-</text>
</g>

<!-- 3612/75 block -->
<g>
<text class="r" transform="rotate(180 1210 578)" x="1210" y="578">3612/75</text>
<use href="#t" x="1177" y="578" color="#c0392b"/>
<text class="d" transform="rotate(180 1200 603)" x="1200" y="603">-9.00-</text>
<text class="d" transform="rotate(180 1203 613)" x="1203" y="613">5</text>
<text class="d" transform="rotate(180 1137 605)" x="1137" y="605">684-171</text>
<text class="d" transform="rotate(-90 1124 636)" x="1124" y="636">-4.00-</text>
<text class="d" transform="rotate(-90 1124 565)" x="1124" y="565">-2.00-</text>
<text class="d" transform="rotate(-90 1276 580)" x="1276" y="580">-2.00-</text>
<text class="k" transform="rotate(180 1238 656)" x="1238" y="656">3942</text>
<circle cx="1190" cy="632" r="1.2" fill="#333"/>
<text class="d" transform="rotate(180 1087 574)" x="1087" y="574">2387-246</text>
<text class="d" transform="rotate(180 1120 552)" x="1120" y="552">-0.50-</text>
</g>

<!-- street -->
<text transform="rotate(180 850 712)" x="850" y="712" font-size="14" fill="#222" text-anchor="middle" dominant-baseline="central">Duhová ⫩ 3856</text>

<!-- big labels -->
<g class="lab" font-weight="bold">
<text x="142" y="144" font-size="18" fill="#d9343a">Záhrada o</text>
<text x="142" y="170" font-size="18" fill="#d9343a">výmere 162 m2</text>
<text x="142" y="195" font-size="18" fill="#d9343a">prináležiaca k</text>
<text x="142" y="221" font-size="18" fill="#d9343a">bytu A1</text>

<text x="390" y="163" font-size="18" fill="#111" text-anchor="middle">Byt B1</text>
<text x="390" y="188" font-size="18" fill="#111" text-anchor="middle">záhrada</text>
<text x="390" y="213" font-size="18" fill="#111" text-anchor="middle">24 m2</text>

<text x="453" y="181" font-size="17" fill="#3aa655">Byt C1</text>
<text x="453" y="206" font-size="17" fill="#3aa655" textLength="140" lengthAdjust="spacingAndGlyphs">záhrada 107 m2</text>

<text x="656" y="291" font-size="21" fill="#a87a58">Byt A1</text>
<text x="656" y="323" font-size="21" fill="#a87a58" textLength="85" lengthAdjust="spacingAndGlyphs">záhrada</text>
<text x="656" y="355" font-size="21" fill="#a87a58" textLength="80" lengthAdjust="spacingAndGlyphs">177 m2</text>

<text x="921" y="105" font-size="21" fill="#c3c0df">Byt B1</text>
<text x="921" y="137" font-size="21" fill="#c3c0df" textLength="85" lengthAdjust="spacingAndGlyphs">záhrada</text>
<text x="921" y="169" font-size="21" fill="#c3c0df" textLength="68" lengthAdjust="spacingAndGlyphs">53 m2</text>

<text x="1079" y="177" font-size="20" fill="#2a9fd6">Byt C1</text>
<text x="1079" y="209" font-size="20" fill="#2a9fd6" textLength="174" lengthAdjust="spacingAndGlyphs">záhrada 331 m2</text>

<text x="290" y="330" font-size="19" fill="#3c4aa8" textLength="157" lengthAdjust="spacingAndGlyphs">OBJEKT SO123</text>
<text x="873" y="327" font-size="19" fill="#f08a3c" textLength="159" lengthAdjust="spacingAndGlyphs">OBJEKT SO124</text>
</g>

<!-- watermark -->
<circle cx="1207" cy="500" r="113" fill="#a89484" opacity="0.62"/>
<polygon points="1207,433 1259,480 1259,557 1155,557 1155,480" fill="#fff" opacity="0.93"/>
<path d="M1207,500 C1207,492 1200,487 1193,487 C1184,487 1180,494 1180,501 C1180,513 1195,522 1207,533 C1219,522 1234,513 1234,501 C1234,494 1230,487 1221,487 C1214,487 1207,492 1207,500 Z" fill="#ee63bb"/>
<text x="1110" y="688" font-size="62" fill="#b3aaa3" opacity="0.9" textLength="203" lengthAdjust="spacingAndGlyphs">DOMY</text>
<text x="1064" y="758" font-size="80" font-weight="bold" fill="#a6988c" opacity="0.95" textLength="298" lengthAdjust="spacingAndGlyphs">PRE ĽUDÍ</text>

<!-- seal -->
<g>
<polygon points="1160,44 1215,44 1215,86 1160,86 1174,65" fill="#d4b25e"/>
<polygon points="1360,44 1305,44 1305,86 1360,86 1346,65" fill="#d4b25e"/>
<polygon points="1200,44 1215,44 1215,86 1200,86" fill="#b8923c"/>
<polygon points="1305,44 1320,44 1320,86 1305,86" fill="#b8923c"/>
<circle cx="1260" cy="63" r="61" fill="url(#gold)" stroke="#9c7428" stroke-width="2"/>
<circle cx="1260" cy="63" r="45" fill="none" stroke="#6d5020" stroke-width="1"/>
<text font-size="7.5" font-weight="bold" fill="#3a2a0e" letter-spacing="1"><textPath href="#arcTop" startOffset="50%" text-anchor="middle">ZDRUŽENIE REALITNÝCH</textPath></text>
<text font-size="7.5" font-weight="bold" fill="#3a2a0e" letter-spacing="1"><textPath href="#arcBot" startOffset="50%" text-anchor="middle">KANCELÁRIÍ SLOVENSKA</textPath></text>
<text x="1260" y="46" font-size="10" fill="#2a1d0a" text-anchor="middle" dominant-baseline="central">★ ★ ★</text>
<text x="1260" y="64" font-size="20.5" font-weight="bold" fill="#2a1d0a" text-anchor="middle" dominant-baseline="central">OVERENÝ</text>
<text x="1260" y="81" font-size="8" fill="#2a1d0a" text-anchor="middle" dominant-baseline="central">ČLEN</text>
</g>
</svg>
</body></html>
